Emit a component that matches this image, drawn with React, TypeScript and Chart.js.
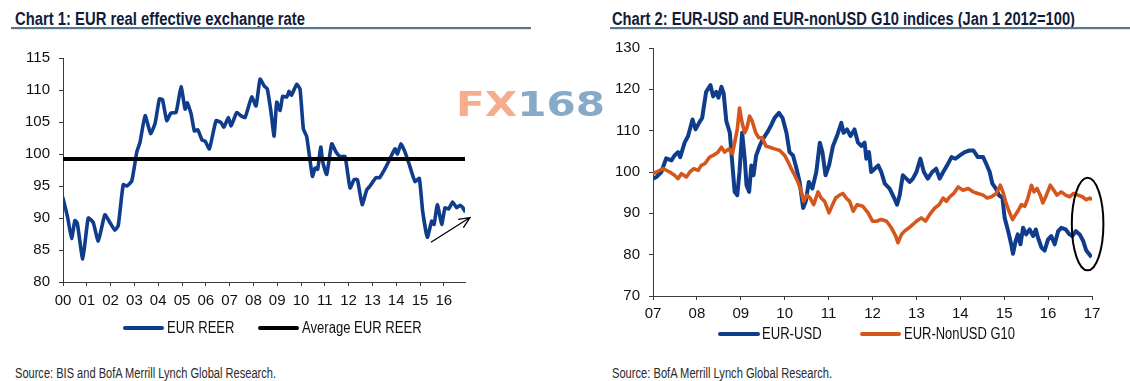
import React, { useEffect, useLayoutEffect, useRef } from "react";
import { Chart, registerables } from "chart.js";

Chart.register(...registerables);

// ---------------- Chart 1 data: EUR real effective exchange rate ----------------
const reerDates = [
  2000.0, 2000.2, 2000.36, 2000.5, 2000.6, 2000.83, 2001.06, 2001.27, 2001.48, 2001.76,
  2001.97, 2002.18, 2002.32, 2002.53, 2002.68, 2002.89, 2003.1, 2003.24, 2003.45, 2003.68,
  2003.87, 2004.05, 2004.18, 2004.36, 2004.53, 2004.75, 2004.96, 2005.13, 2005.22, 2005.38,
  2005.52, 2005.66, 2005.84, 2005.97, 2006.15, 2006.43, 2006.64, 2006.76, 2006.95, 2007.06,
  2007.3, 2007.47, 2007.65, 2007.93, 2008.11, 2008.28, 2008.46, 2008.58, 2008.73, 2008.87,
  2008.98, 2009.12, 2009.23, 2009.4, 2009.5, 2009.6, 2009.82, 2009.96, 2010.1, 2010.24,
  2010.48, 2010.59, 2010.7, 2010.83, 2010.91, 2011.08, 2011.29, 2011.47, 2011.64, 2011.85,
  2012.06, 2012.23, 2012.37, 2012.57, 2012.76, 2012.9, 2013.15, 2013.3, 2013.57, 2013.74,
  2013.95, 2014.05, 2014.2, 2014.37, 2014.58, 2014.79, 2014.97, 2015.11, 2015.31, 2015.49,
  2015.59, 2015.73, 2015.91, 2016.05, 2016.2, 2016.37, 2016.54, 2016.68, 2016.8, 2016.88,
];
const reerValues = [
  93.1, 90.0, 86.8, 89.6, 89.2, 83.6, 90.0, 89.3, 86.4, 90.5,
  89.3, 88.1, 88.8, 95.2, 95.0, 95.8, 100.3, 101.9, 106.0, 103.2,
  104.8, 108.6, 108.5, 105.2, 106.4, 106.5, 110.5, 107.0, 108.0, 106.3,
  103.6, 103.8, 102.2, 102.0, 100.8, 105.2, 104.9, 104.2, 105.7, 104.4,
  106.5, 106.0, 105.7, 108.9, 107.5, 111.7, 110.6, 110.2, 106.8, 102.8,
  108.1, 106.8, 109.0, 108.9, 109.8, 109.2, 110.9, 110.1, 103.9, 102.7,
  96.5, 97.8, 97.6, 101.1, 98.8, 96.8, 101.6, 100.3, 99.6, 99.6,
  94.7, 96.0, 96.0, 92.1, 94.4, 95.0, 96.3, 96.3, 98.0, 99.3,
  100.8, 100.0, 101.6, 100.3, 98.0, 95.7, 96.2, 91.1, 87.0, 89.5,
  89.0, 92.1, 89.0, 91.6, 91.4, 92.5, 91.6, 92.0, 91.6, 91.1,
];
const reerAvgDates = [2000.0, 2016.89];
const reerAvgValues = [99.2, 99.2];

// ---------------- Chart 2 data: EUR-USD and EUR-nonUSD G10 ----------------
const usdDates = [
  2007.0, 2007.08, 2007.19, 2007.3, 2007.42, 2007.49, 2007.57, 2007.62, 2007.72, 2007.8,
  2007.9, 2007.97, 2008.05, 2008.12, 2008.21, 2008.31, 2008.37, 2008.44, 2008.49, 2008.56,
  2008.61, 2008.67, 2008.75, 2008.81, 2008.86, 2008.92, 2008.97, 2009.03, 2009.09, 2009.13,
  2009.19, 2009.24, 2009.29, 2009.35, 2009.43, 2009.5, 2009.62, 2009.7, 2009.77, 2009.87,
  2009.95, 2010.04, 2010.11, 2010.19, 2010.27, 2010.34, 2010.42, 2010.48, 2010.55, 2010.63,
  2010.72, 2010.8, 2010.86, 2010.93, 2011.01, 2011.1, 2011.19, 2011.29, 2011.34, 2011.42,
  2011.5, 2011.59, 2011.67, 2011.75, 2011.82, 2011.86, 2011.92, 2011.97, 2012.05, 2012.13,
  2012.2, 2012.28, 2012.39, 2012.48, 2012.56, 2012.62, 2012.69, 2012.77, 2012.85, 2012.92,
  2013.0, 2013.09, 2013.17, 2013.26, 2013.36, 2013.45, 2013.53, 2013.61, 2013.7, 2013.8,
  2013.89, 2013.99, 2014.1, 2014.21, 2014.3, 2014.4, 2014.52, 2014.59, 2014.67, 2014.73,
  2014.81, 2014.88, 2014.96, 2015.01, 2015.09, 2015.16, 2015.2, 2015.26, 2015.31, 2015.37,
  2015.43, 2015.5, 2015.58, 2015.66, 2015.72, 2015.77, 2015.85, 2015.92, 2016.0, 2016.07,
  2016.15, 2016.23, 2016.3, 2016.4, 2016.49, 2016.55, 2016.63, 2016.72, 2016.8, 2016.87,
  2016.93, 2016.99,
];
const usdValues = [
  98.4, 98.8, 100.0, 103.3, 102.8, 104.0, 104.8, 103.6, 107.1, 108.7,
  112.7, 110.3, 111.9, 113.1, 119.4, 121.0, 118.3, 119.4, 118.0, 120.6,
  119.0, 112.3, 109.5, 101.6, 95.2, 94.4, 100.0, 109.5, 103.2, 96.8,
  95.2, 101.6, 99.2, 104.0, 106.3, 107.9, 109.9, 111.5, 113.1, 114.3,
  113.1, 109.5, 104.8, 104.0, 100.8, 97.6, 91.3, 92.9, 97.6, 96.0,
  100.0, 107.1, 104.8, 99.2, 101.6, 106.3, 108.7, 111.9, 109.5, 110.3,
  108.7, 110.3, 107.1, 106.3, 107.1, 103.2, 104.8, 100.0, 100.8, 101.6,
  100.0, 97.2, 96.0, 94.0, 92.1, 94.4, 99.2, 98.4, 97.6, 98.4,
  100.0, 103.2, 100.0, 98.4, 100.0, 100.8, 98.4, 100.0, 101.6, 103.6,
  103.2, 104.0, 104.8, 105.2, 105.2, 103.6, 103.6, 102.0, 100.0, 97.2,
  96.0, 94.4, 93.7, 88.9, 85.7, 82.5, 80.2, 83.3, 84.9, 82.5,
  86.5, 84.9, 86.1, 84.5, 86.1, 84.1, 81.7, 81.0, 83.7, 84.5,
  82.5, 85.7, 86.5, 86.1, 84.9, 84.5, 85.7, 84.9, 83.3, 81.0,
  80.2, 79.4,
];
const g10Dates = [
  2007.0, 2007.08, 2007.23, 2007.38, 2007.49, 2007.57, 2007.65, 2007.76, 2007.84, 2007.93,
  2008.03, 2008.1, 2008.18, 2008.29, 2008.37, 2008.48, 2008.56, 2008.63, 2008.73, 2008.81,
  2008.86, 2008.92, 2008.97, 2009.03, 2009.09, 2009.14, 2009.2, 2009.26, 2009.34, 2009.41,
  2009.49, 2009.57, 2009.66, 2009.77, 2009.89, 2010.0, 2010.08, 2010.15, 2010.23, 2010.3,
  2010.38, 2010.43, 2010.51, 2010.58, 2010.66, 2010.76, 2010.83, 2010.91, 2011.01, 2011.09,
  2011.16, 2011.25, 2011.33, 2011.4, 2011.48, 2011.56, 2011.65, 2011.78, 2011.9, 2012.0,
  2012.09, 2012.2, 2012.32, 2012.43, 2012.53, 2012.58, 2012.66, 2012.73, 2012.83, 2012.92,
  2013.0, 2013.11, 2013.21, 2013.3, 2013.42, 2013.52, 2013.61, 2013.68, 2013.76, 2013.85,
  2013.95, 2014.06, 2014.18, 2014.29, 2014.4, 2014.52, 2014.61, 2014.71, 2014.82, 2014.91,
  2014.97, 2015.03, 2015.11, 2015.19, 2015.26, 2015.31, 2015.39, 2015.47, 2015.54, 2015.62,
  2015.68, 2015.75, 2015.82, 2015.88, 2015.96, 2016.05, 2016.13, 2016.2, 2016.3, 2016.4,
  2016.49, 2016.58, 2016.68, 2016.78, 2016.87, 2016.95, 2017.0,
];
const g10Values = [
  99.6, 100.0, 100.8, 100.0, 99.2, 98.4, 99.6, 98.8, 100.0, 100.8,
  100.4, 101.6, 102.0, 103.6, 104.0, 104.8, 106.0, 104.8, 105.6, 104.4,
  107.1, 110.3, 115.5, 111.9, 109.5, 110.7, 113.5, 112.3, 109.5, 108.3,
  108.3, 106.3, 106.0, 105.6, 105.2, 104.0, 102.4, 100.8, 99.2, 97.6,
  95.2, 92.9, 94.4, 93.7, 92.1, 95.2, 93.7, 92.9, 90.1, 92.1,
  93.7, 94.4, 94.8, 93.7, 92.9, 90.5, 92.1, 91.7, 90.1, 88.1,
  88.1, 88.5, 88.1, 86.5, 84.5, 82.9, 84.9, 85.7, 86.5, 87.3,
  88.1, 88.9, 88.1, 89.7, 91.3, 92.1, 93.7, 92.9, 94.0, 94.8,
  96.4, 95.6, 96.0, 95.2, 94.8, 94.4, 93.7, 94.0, 94.8, 96.8,
  95.2, 92.9, 90.5, 88.5, 89.7, 90.5, 92.1, 91.7, 93.7, 96.8,
  95.2, 96.0, 94.4, 92.5, 94.4, 96.8, 95.6, 94.4, 95.2, 94.4,
  94.0, 94.8, 94.4, 94.0, 93.3, 93.7, 93.3,
];

// annotations (data space)
const arrowFrom = [2015.46, 86.2];
const arrowTo = [2017.1, 90.07];
const ellipseCenter = [2016.9, 87.4];
const ellipseRadius = [0.36, 11.2];

const FONT = '"Liberation Sans", Arial, Helvetica, sans-serif';
const NARROW = '"Liberation Sans Narrow", "Arial Narrow", "Liberation Sans", Arial, sans-serif';
const AXIS = "#3a3a3a";
const BLUE = "#0f3d8c";
const ORANGE = "#d4571d";
const TITLE_COLOR = "#111c3a";

const yy = (v: number) => String(Math.round(v) % 100).padStart(2, "0");

function axisStyle() {
  return {
    border: { display: true, color: AXIS, width: 1 },
    grid: { display: true, drawOnChartArea: false, drawTicks: true, tickLength: 4, color: AXIS },
  };
}

const arrowPlugin = {
  id: "arrowNote",
  afterDatasetsDraw(chart: any) {
    const { ctx, scales } = chart;
    const x0 = scales.x.getPixelForValue(arrowFrom[0]);
    const y0 = scales.y.getPixelForValue(arrowFrom[1]);
    const x1 = scales.x.getPixelForValue(arrowTo[0]);
    const y1 = scales.y.getPixelForValue(arrowTo[1]);
    const ang = Math.atan2(y1 - y0, x1 - x0);
    const L = 12;
    ctx.save();
    ctx.strokeStyle = "#000";
    ctx.lineWidth = 1.3;
    ctx.beginPath();
    ctx.moveTo(x0, y0);
    ctx.lineTo(x1, y1);
    ctx.moveTo(x1 - L * Math.cos(ang - 0.42), y1 - L * Math.sin(ang - 0.42));
    ctx.lineTo(x1, y1);
    ctx.lineTo(x1 - L * Math.cos(ang + 0.42), y1 - L * Math.sin(ang + 0.42));
    ctx.stroke();
    ctx.restore();
  },
};

const ellipsePlugin = {
  id: "ellipseNote",
  afterDatasetsDraw(chart: any) {
    const { ctx, scales } = chart;
    const cx = scales.x.getPixelForValue(ellipseCenter[0]);
    const cy = scales.y.getPixelForValue(ellipseCenter[1]);
    const rx = Math.abs(scales.x.getPixelForValue(ellipseCenter[0] + ellipseRadius[0]) - cx);
    const ry = Math.abs(scales.y.getPixelForValue(ellipseCenter[1] + ellipseRadius[1]) - cy);
    ctx.save();
    ctx.strokeStyle = "#000";
    ctx.lineWidth = 2;
    ctx.beginPath();
    ctx.ellipse(cx, cy, rx, ry, 0, 0, Math.PI * 2);
    ctx.stroke();
    ctx.restore();
  },
};

function chart1Config(): any {
  const tickFont = { family: NARROW, size: 15 };
  return {
    type: "line",
    data: {
      datasets: [
        {
          label: "Average EUR REER",
          data: reerAvgDates.map((x, i) => ({ x, y: reerAvgValues[i] })),
          borderColor: "#000",
          backgroundColor: "#000",
          borderWidth: 4,
          pointRadius: 0,
          order: 0,
        },
        {
          label: "EUR REER",
          data: reerDates.map((x, i) => ({ x, y: reerValues[i] })),
          borderColor: BLUE,
          backgroundColor: BLUE,
          borderWidth: 3.6,
          pointRadius: 0,
          borderJoinStyle: "round",
          borderCapStyle: "round",
          tension: 0.15,
          order: 1,
        },
      ],
    },
    options: {
      responsive: false,
      animation: false,
      layout: { padding: { left: 0, right: 25, top: 15, bottom: 0 } },
      plugins: { legend: { display: false }, tooltip: { enabled: false } },
      scales: {
        x: {
          type: "linear",
          min: 2000,
          max: 2016.89,
          afterFit: (s: any) => { s.height = 38; },
          ...axisStyle(),
          ticks: {
            stepSize: 1, includeBounds: false, autoSkip: false, maxRotation: 0,
            padding: 6, color: "#111", font: tickFont,
            callback: (v: any) => yy(Number(v)),
          },
        },
        y: {
          type: "linear",
          min: 80,
          max: 115,
          afterFit: (s: any) => { s.width = 63; },
          ...axisStyle(),
          ticks: { stepSize: 5, padding: 9, color: "#111", font: tickFont },
        },
      },
    },
    plugins: [arrowPlugin],
  };
}

function chart2Config(): any {
  const tickFont = { family: NARROW, size: 15 };
  return {
    type: "line",
    data: {
      datasets: [
        {
          label: "EUR-NonUSD G10",
          data: g10Dates.map((x, i) => ({ x, y: g10Values[i] })),
          borderColor: ORANGE,
          backgroundColor: ORANGE,
          borderWidth: 3.6,
          pointRadius: 0,
          borderJoinStyle: "round",
          order: 0,
        },
        {
          label: "EUR-USD",
          data: usdDates.map((x, i) => ({ x, y: usdValues[i] })),
          borderColor: BLUE,
          backgroundColor: BLUE,
          borderWidth: 4,
          pointRadius: 0,
          borderJoinStyle: "round",
          order: 1,
        },
      ],
    },
    options: {
      responsive: false,
      animation: false,
      layout: { padding: { left: 0, right: 38, top: 14, bottom: 0 } },
      plugins: { legend: { display: false }, tooltip: { enabled: false } },
      scales: {
        x: {
          type: "linear",
          min: 2007,
          max: 2017,
          afterFit: (s: any) => { s.height = 34; },
          ...axisStyle(),
          ticks: {
            stepSize: 1, autoSkip: false, maxRotation: 0,
            padding: 5, color: "#111", font: tickFont,
            callback: (v: any) => yy(Number(v)),
          },
        },
        y: {
          type: "linear",
          min: 70,
          max: 130,
          afterFit: (s: any) => { s.width = 88; },
          ...axisStyle(),
          ticks: { stepSize: 10, padding: 9, color: "#111", font: tickFont },
        },
      },
    },
    plugins: [ellipsePlugin],
  };
}

function ChartCanvas({ make, left, top, width, height }: any) {
  const ref = useRef<HTMLCanvasElement>(null);
  useEffect(() => {
    const chart = new Chart(ref.current as HTMLCanvasElement, make());
    return () => chart.destroy();
  }, []);
  return (
    <canvas
      ref={ref}
      width={width}
      height={height}
      style={{ position: "absolute", left, top, width, height }}
    />
  );
}

function FitText({ children, left, top, width, size, weight, color, family }: any) {
  const ref = useRef<HTMLSpanElement>(null);
  useLayoutEffect(() => {
    const el = ref.current;
    if (!el) return;
    el.style.transform = "none";
    const w = el.getBoundingClientRect().width;
    if (w > 0) el.style.transform = `scaleX(${width / w})`;
  }, [width]);
  return (
    <span
      ref={ref}
      style={{
        position: "absolute",
        left,
        top,
        whiteSpace: "nowrap",
        transformOrigin: "0 0",
        fontFamily: family || FONT,
        fontSize: size,
        lineHeight: `${size}px`,
        fontWeight: weight || "normal",
        color: color || "#111",
      }}
    >
      {children}
    </span>
  );
}

function LegendLine({ left, right, y, color }: any) {
  return (
    <div
      style={{
        position: "absolute",
        left,
        top: y - 2,
        width: right - left,
        height: 4,
        borderRadius: 2,
        background: color,
      }}
    />
  );
}

function Rule({ left, right, top }: any) {
  return (
    <>
      <div style={{ position: "absolute", left, top, width: right - left, height: 2, background: "#56788f" }} />
      <div style={{ position: "absolute", left, top: top + 2, width: right - left, height: 1, background: "#dfe5ea" }} />
    </>
  );
}

export default function App() {
  return (
    <div
      style={{
        position: "absolute",
        left: 0,
        top: 0,
        width: 1130,
        height: 381,
        background: "#fff",
        overflow: "hidden",
        fontFamily: FONT,
      }}
    >
      {/* Titles */}
      <FitText left={15} top={9.5} width={290} size={18} weight="bold" color={TITLE_COLOR}>
        Chart 1: EUR real effective exchange rate
      </FitText>
      <Rule left={11} right={531} top={27} />
      <FitText left={612} top={9.5} width={463} size={18} weight="bold" color={TITLE_COLOR}>
        Chart 2: EUR-USD and EUR-nonUSD G10 indices (Jan 1 2012=100)
      </FitText>
      <Rule left={610} right={1130} top={27} />

      {/* Charts */}
      <ChartCanvas make={chart1Config} left={0} top={40} width={490} height={280} />
      <ChartCanvas make={chart2Config} left={565} top={30} width={565} height={300} />

      {/* Watermark */}
      <FitText left={456} top={88} width={149} size={33} weight="bold" family='"DejaVu Sans", sans-serif'>
        <span style={{ color: "#f5ad8e" }}>FX</span>
        <span style={{ color: "#86aac8" }}>168</span>
      </FitText>

      {/* Legend chart 1 */}
      <LegendLine left={122.5} right={164} y={328} color={BLUE} />
      <FitText left={166.5} top={320.4} width={67.5} size={16} family={NARROW}>EUR REER</FitText>
      <LegendLine left={257.6} right={299} y={328} color="#000" />
      <FitText left={302} top={320.4} width={119.6} size={16} family={NARROW}>Average EUR REER</FitText>

      {/* Legend chart 2 */}
      <LegendLine left={718} right={760} y={334} color={BLUE} />
      <FitText left={762} top={326.4} width={59.6} size={16} family={NARROW}>EUR-USD</FitText>
      <LegendLine left={860} right={901} y={334} color={ORANGE} />
      <FitText left={904} top={326.4} width={111} size={16} family={NARROW}>EUR-NonUSD G10</FitText>

      {/* Sources */}
      <FitText left={15} top={366.4} width={261} size={14} color="#2a2a2a" family={NARROW}>
        Source: BIS and BofA Merrill Lynch Global Research.
      </FitText>
      <FitText left={612} top={366.4} width={220} size={14} color="#2a2a2a" family={NARROW}>
        Source: BofA Merrill Lynch Global Research.
      </FitText>
    </div>
  );
}
